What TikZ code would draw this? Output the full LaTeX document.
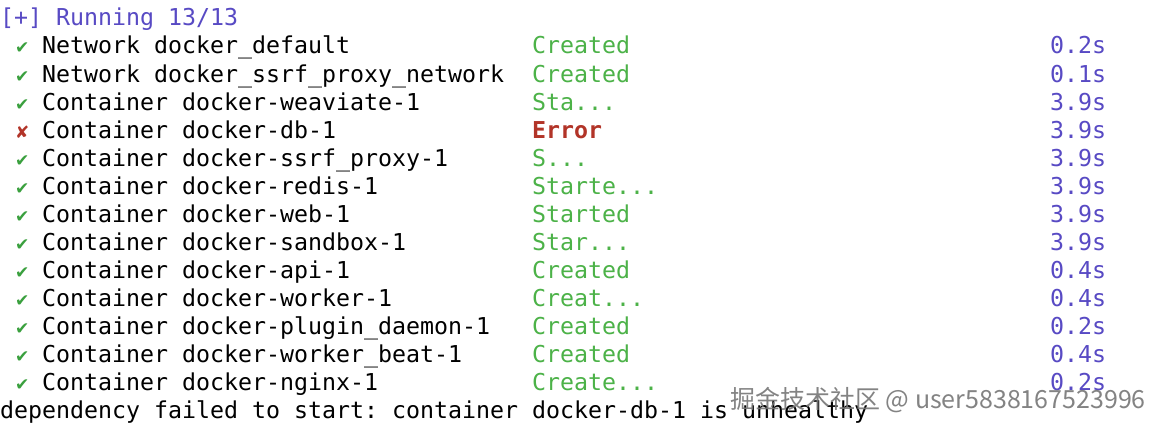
\documentclass[tikz,border=0pt]{standalone}
\usepackage{fontspec}
\setmonofont{DejaVu Sans Mono}
\newfontfamily\symfont{DejaVu Sans}
\newfontfamily\cjkfont{Noto Sans CJK SC}
\definecolor{termgreen}{RGB}{76,178,72}
\definecolor{checkgreen}{RGB}{58,160,62}
\definecolor{termpurple}{RGB}{88,74,196}
\definecolor{termred}{RGB}{178,52,40}
\definecolor{wmgray}{RGB}{118,118,118}
\tikzset{
  term/.style={anchor=base west, inner sep=0pt, outer sep=0pt,
    font=\ttfamily\fontsize{23.26}{28}\selectfont},
  plain/.style={term, text=black},
  status/.style={term, text=termgreen},
  errstat/.style={term, text=termred, font=\ttfamily\bfseries\fontsize{23.26}{28}\selectfont},
  timing/.style={term, text=termpurple},
  okmark/.style={anchor=base west, inner sep=0pt, text=checkgreen, font=\symfont\fontsize{17}{17}\selectfont},
  failmark/.style={anchor=base west, inner sep=0pt, text=termred, font=\symfont\fontsize{17}{17}\selectfont},
  watermark/.style={anchor=base west, inner sep=0pt, text=wmgray, text opacity=0.9,
    font=\cjkfont\fontsize{25}{28}\selectfont}
}
\begin{document}
\begin{tikzpicture}[x=1pt,y=-1pt]
\useasboundingbox[fill=white] (0,0) rectangle (1164,428);
% header
\node[term, text=termpurple] (hdr) at (0,26) {[+] Running 13/13};
% rows: mark, name, status, time
\def\cw{14}
\newcommand\okrow[5]{%
  \node[okmark] (m#1) at (15,#2) {✔};
  \node[plain] (n#1) at (3*\cw,#2) {#3};
  \node[status] (s#1) at (38*\cw,#2) {#4};
  \node[timing] (t#1) at (75*\cw,#2) {#5};
}
\okrow{1}{54}{Network docker\_default}{Created}{0.2s}
\okrow{2}{82}{Network docker\_ssrf\_proxy\_network}{Created}{0.1s}
\okrow{3}{110}{Container docker-weaviate-1}{Sta...}{3.9s}
\node[failmark] (m4) at (15,138) {✘};
\node[plain] (n4) at (3*\cw,138) {Container docker-db-1};
\node[errstat] (s4) at (38*\cw,138) {Error};
\node[timing] (t4) at (75*\cw,138) {3.9s};
\okrow{5}{166}{Container docker-ssrf\_proxy-1}{S...}{3.9s}
\okrow{6}{194}{Container docker-redis-1}{Starte...}{3.9s}
\okrow{7}{222}{Container docker-web-1}{Started}{3.9s}
\okrow{8}{250}{Container docker-sandbox-1}{Star...}{3.9s}
\okrow{9}{278}{Container docker-api-1}{Created}{0.4s}
\okrow{10}{306}{Container docker-worker-1}{Creat...}{0.4s}
\okrow{11}{334}{Container docker-plugin\_daemon-1}{Created}{0.2s}
\okrow{12}{362}{Container docker-worker\_beat-1}{Created}{0.4s}
\okrow{13}{390}{Container docker-nginx-1}{Create...}{0.2s}
\node[plain] (dep) at (0,418) {dependency failed to start: container docker-db-1 is unhealthy};
% watermark
\node[watermark] (wm) at (730,408) {掘金技术社区 @ user5838167523996};
\end{tikzpicture}
\end{document}
